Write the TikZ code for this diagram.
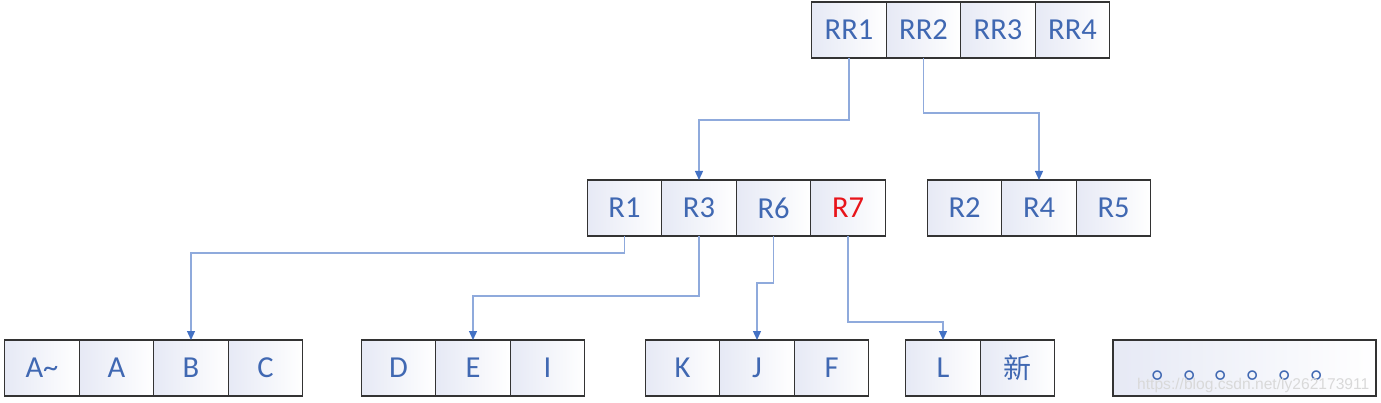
\documentclass[tikz,border=0pt]{standalone}
\usepackage{fontspec}
\setmainfont{Carlito}
\newfontfamily\cjk{Noto Sans CJK SC}
\newfontfamily\wmfont{Liberation Sans}
\usetikzlibrary{arrows.meta}
\definecolor{txtblue}{HTML}{4068B2}
\definecolor{linblue}{HTML}{8FAADC}
\definecolor{arrblue}{HTML}{4472C4}
\definecolor{cellsh}{HTML}{E6E9F5}
\definecolor{redtxt}{HTML}{E8141A}
\definecolor{bord}{HTML}{333333}
\begin{document}
\begin{tikzpicture}[x=1pt,y=-1pt,
  cell/.style={draw=bord,line width=1.2pt,left color=cellsh,right color=white,
    minimum width=74.5pt,minimum height=56pt,inner sep=0pt,outer sep=0pt,
    text=txtblue,font=\fontsize{30.5}{31}\selectfont},
  conn/.style={draw=linblue,line width=1.3pt,-{Triangle[width=8pt,length=9pt,color=arrblue]}}]
\useasboundingbox (0,0) rectangle (1381,403);
% top
\node[cell] (rr1) at (849,30) {RR1};
\node[cell] (rr2) at (923.5,30) {RR2};
\node[cell] (rr3) at (998,30) {RR3};
\node[cell] (rr4) at (1072.5,30) {RR4};
% middle left
\node[cell] (r1) at (624.5,208) {R1};
\node[cell] (r3) at (699,208) {R3};
\node[cell] (r6) at (773.5,208) {R6};
\node[cell,text=redtxt] (r7) at (848,208) {R7};
% middle right
\node[cell] (r2) at (964.5,208) {R2};
\node[cell] (r4) at (1039,208) {R4};
\node[cell] (r5) at (1113.5,208) {R5};
% bottom
\node[cell] (at) at (42,368) {A\char`\~};
\node[cell] (a) at (116.5,368) {A};
\node[cell] (b) at (191,368) {B};
\node[cell] (c) at (265.5,368) {C};
\node[cell] (d) at (398.5,368) {D};
\node[cell] (e) at (473,368) {E};
\node[cell] (i) at (547.5,368) {I};
\node[cell] (k) at (682.5,368) {K};
\node[cell] (j) at (757,368) {J};
\node[cell] (f) at (831.5,368) {F};
\node[cell] (l) at (943,368) {L};
\node[cell,font=\cjk\fontsize{28}{29}\selectfont] (xin) at (1017.5,368) {新};
\node[cell,minimum width=263pt] (etc) at (1244.5,368) {};
\node[anchor=base west,inner sep=0pt,text=txtblue,font=\cjk\fontsize{31.8}{32}\selectfont] (dots) at (1151,378) {。。。。。。};
\node[anchor=base west,inner sep=0pt,text=gray!30,font=\wmfont\fontsize{15.6}{16}\selectfont] (wm) at (1137,389) {https://blog.csdn.net/ly262173911};
% connectors
\draw[conn] (rr1.south) -- ++(0,62) -| (r3.north);
\draw[conn] (rr2.south) -- ++(0,55) -| (r4.north);
\draw[conn] (r1.south) -- ++(0,17) -| (b.north);
\draw[conn] (r3.south) -- ++(0,60) -| (e.north);
\draw[conn] (r6.south) -- ++(0,47) -| (j.north);
\draw[conn] (r7.south) -- ++(0,86) -| (l.north);
\end{tikzpicture}
\end{document}
